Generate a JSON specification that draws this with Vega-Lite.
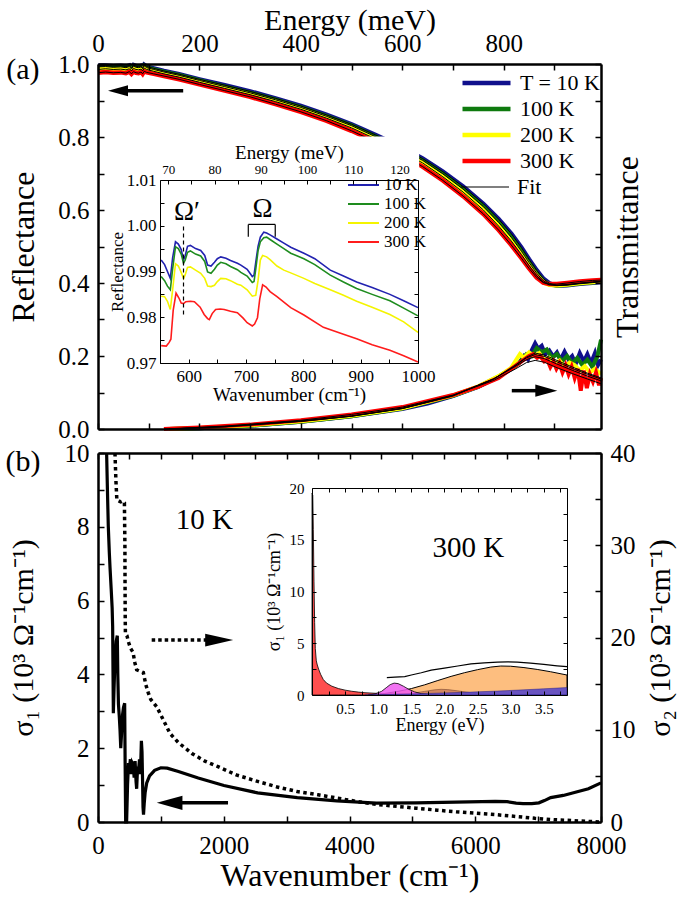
{
"$schema": "https://vega.github.io/schema/vega-lite/v6.json",
"width": 685, "height": 899,
"autosize": {"type": "none"},
"padding": 0,
"background": "white",
"config": {
 "font": "Liberation Serif",
 "view": {"stroke": null},
 "axis": {"grid": false, "labelColor": "black", "titleColor": "black", "tickColor": "black", "domainColor": "black", "titleFontWeight": "normal", "labelFlush": false, "labelOverlap": false},
 "legend": {"labelColor": "black", "labelFont": "Liberation Serif"}
},
"datasets": {
 "one": [{}],
 "R": [
  {"E":0,"T":"10 K","R":0.995},{"E":15,"T":"10 K","R":0.996},{"E":30,"T":"10 K","R":0.994},{"E":45,"T":"10 K","R":0.995},{"E":55,"T":"10 K","R":0.993},{"E":62,"T":"10 K","R":0.996},{"E":66,"T":"10 K","R":0.989},{"E":70,"T":"10 K","R":0.997},{"E":75,"T":"10 K","R":0.994},{"E":80,"T":"10 K","R":0.993},{"E":85,"T":"10 K","R":0.995},{"E":88,"T":"10 K","R":0.99},{"E":91,"T":"10 K","R":0.998},{"E":96,"T":"10 K","R":0.993},{"E":110,"T":"10 K","R":0.988},{"E":130,"T":"10 K","R":0.981},{"E":160,"T":"10 K","R":0.972},{"E":200,"T":"10 K","R":0.958},{"E":250,"T":"10 K","R":0.942},{"E":300,"T":"10 K","R":0.925},{"E":350,"T":"10 K","R":0.906},{"E":400,"T":"10 K","R":0.885},{"E":450,"T":"10 K","R":0.861},{"E":500,"T":"10 K","R":0.835},{"E":550,"T":"10 K","R":0.804},{"E":600,"T":"10 K","R":0.771},{"E":640,"T":"10 K","R":0.741},{"E":680,"T":"10 K","R":0.705},{"E":720,"T":"10 K","R":0.664},{"E":760,"T":"10 K","R":0.617},{"E":790,"T":"10 K","R":0.575},{"E":815,"T":"10 K","R":0.535},{"E":835,"T":"10 K","R":0.497},{"E":850,"T":"10 K","R":0.465},{"E":865,"T":"10 K","R":0.435},{"E":878,"T":"10 K","R":0.412},{"E":890,"T":"10 K","R":0.399},{"E":905,"T":"10 K","R":0.393},{"E":925,"T":"10 K","R":0.394},{"E":950,"T":"10 K","R":0.398},{"E":975,"T":"10 K","R":0.401},{"E":992,"T":"10 K","R":0.403},
  {"E":0,"T":"100 K","R":0.992},{"E":15,"T":"100 K","R":0.993},{"E":30,"T":"100 K","R":0.991},{"E":45,"T":"100 K","R":0.992},{"E":55,"T":"100 K","R":0.99},{"E":62,"T":"100 K","R":0.993},{"E":66,"T":"100 K","R":0.986},{"E":70,"T":"100 K","R":0.994},{"E":75,"T":"100 K","R":0.991},{"E":80,"T":"100 K","R":0.99},{"E":85,"T":"100 K","R":0.992},{"E":88,"T":"100 K","R":0.987},{"E":91,"T":"100 K","R":0.995},{"E":96,"T":"100 K","R":0.99},{"E":110,"T":"100 K","R":0.985},{"E":130,"T":"100 K","R":0.978},{"E":160,"T":"100 K","R":0.969},{"E":200,"T":"100 K","R":0.955},{"E":250,"T":"100 K","R":0.938},{"E":300,"T":"100 K","R":0.921},{"E":350,"T":"100 K","R":0.902},{"E":400,"T":"100 K","R":0.881},{"E":450,"T":"100 K","R":0.857},{"E":500,"T":"100 K","R":0.831},{"E":550,"T":"100 K","R":0.799},{"E":600,"T":"100 K","R":0.766},{"E":640,"T":"100 K","R":0.736},{"E":680,"T":"100 K","R":0.699},{"E":720,"T":"100 K","R":0.657},{"E":760,"T":"100 K","R":0.609},{"E":790,"T":"100 K","R":0.566},{"E":815,"T":"100 K","R":0.525},{"E":835,"T":"100 K","R":0.487},{"E":850,"T":"100 K","R":0.456},{"E":865,"T":"100 K","R":0.427},{"E":878,"T":"100 K","R":0.406},{"E":890,"T":"100 K","R":0.396},{"E":905,"T":"100 K","R":0.393},{"E":925,"T":"100 K","R":0.395},{"E":950,"T":"100 K","R":0.399},{"E":975,"T":"100 K","R":0.402},{"E":992,"T":"100 K","R":0.404},
  {"E":0,"T":"200 K","R":0.985},{"E":15,"T":"200 K","R":0.987},{"E":30,"T":"200 K","R":0.985},{"E":45,"T":"200 K","R":0.986},{"E":55,"T":"200 K","R":0.984},{"E":62,"T":"200 K","R":0.987},{"E":66,"T":"200 K","R":0.981},{"E":70,"T":"200 K","R":0.988},{"E":75,"T":"200 K","R":0.985},{"E":80,"T":"200 K","R":0.984},{"E":85,"T":"200 K","R":0.986},{"E":88,"T":"200 K","R":0.981},{"E":91,"T":"200 K","R":0.989},{"E":96,"T":"200 K","R":0.985},{"E":110,"T":"200 K","R":0.98},{"E":130,"T":"200 K","R":0.973},{"E":160,"T":"200 K","R":0.964},{"E":200,"T":"200 K","R":0.95},{"E":250,"T":"200 K","R":0.933},{"E":300,"T":"200 K","R":0.916},{"E":350,"T":"200 K","R":0.897},{"E":400,"T":"200 K","R":0.876},{"E":450,"T":"200 K","R":0.852},{"E":500,"T":"200 K","R":0.825},{"E":550,"T":"200 K","R":0.793},{"E":600,"T":"200 K","R":0.759},{"E":640,"T":"200 K","R":0.729},{"E":680,"T":"200 K","R":0.691},{"E":720,"T":"200 K","R":0.649},{"E":760,"T":"200 K","R":0.6},{"E":790,"T":"200 K","R":0.556},{"E":815,"T":"200 K","R":0.515},{"E":835,"T":"200 K","R":0.478},{"E":850,"T":"200 K","R":0.448},{"E":865,"T":"200 K","R":0.42},{"E":878,"T":"200 K","R":0.402},{"E":890,"T":"200 K","R":0.395},{"E":905,"T":"200 K","R":0.394},{"E":925,"T":"200 K","R":0.396},{"E":950,"T":"200 K","R":0.4},{"E":975,"T":"200 K","R":0.403},{"E":992,"T":"200 K","R":0.405},
  {"E":0,"T":"300 K","R":0.976},{"E":15,"T":"300 K","R":0.978},{"E":30,"T":"300 K","R":0.976},{"E":45,"T":"300 K","R":0.977},{"E":55,"T":"300 K","R":0.975},{"E":62,"T":"300 K","R":0.979},{"E":66,"T":"300 K","R":0.973},{"E":70,"T":"300 K","R":0.979},{"E":75,"T":"300 K","R":0.976},{"E":80,"T":"300 K","R":0.975},{"E":85,"T":"300 K","R":0.978},{"E":88,"T":"300 K","R":0.973},{"E":91,"T":"300 K","R":0.98},{"E":96,"T":"300 K","R":0.977},{"E":110,"T":"300 K","R":0.973},{"E":130,"T":"300 K","R":0.967},{"E":160,"T":"300 K","R":0.958},{"E":200,"T":"300 K","R":0.944},{"E":250,"T":"300 K","R":0.927},{"E":300,"T":"300 K","R":0.91},{"E":350,"T":"300 K","R":0.89},{"E":400,"T":"300 K","R":0.869},{"E":450,"T":"300 K","R":0.845},{"E":500,"T":"300 K","R":0.817},{"E":550,"T":"300 K","R":0.785},{"E":600,"T":"300 K","R":0.75},{"E":640,"T":"300 K","R":0.719},{"E":680,"T":"300 K","R":0.681},{"E":720,"T":"300 K","R":0.638},{"E":760,"T":"300 K","R":0.589},{"E":790,"T":"300 K","R":0.545},{"E":815,"T":"300 K","R":0.504},{"E":835,"T":"300 K","R":0.468},{"E":850,"T":"300 K","R":0.44},{"E":865,"T":"300 K","R":0.415},{"E":878,"T":"300 K","R":0.401},{"E":890,"T":"300 K","R":0.397},{"E":905,"T":"300 K","R":0.397},{"E":925,"T":"300 K","R":0.4},{"E":950,"T":"300 K","R":0.404},{"E":975,"T":"300 K","R":0.407},{"E":992,"T":"300 K","R":0.408}
 ],
 "Tr": [
  {"E":140,"T":"10 K","v":0},{"E":200,"T":"10 K","v":0.002},{"E":300,"T":"10 K","v":0.009},{"E":400,"T":"10 K","v":0.02},{"E":500,"T":"10 K","v":0.035},{"E":600,"T":"10 K","v":0.055},{"E":650,"T":"10 K","v":0.07},{"E":700,"T":"10 K","v":0.09},{"E":750,"T":"10 K","v":0.115},{"E":790,"T":"10 K","v":0.143},{"E":815,"T":"10 K","v":0.165},{"E":830,"T":"10 K","v":0.18},{"E":840,"T":"10 K","v":0.2},{"E":848,"T":"10 K","v":0.19},{"E":855,"T":"10 K","v":0.215},{"E":862,"T":"10 K","v":0.235},{"E":868,"T":"10 K","v":0.22},{"E":875,"T":"10 K","v":0.228},{"E":882,"T":"10 K","v":0.205},{"E":890,"T":"10 K","v":0.215},{"E":898,"T":"10 K","v":0.198},{"E":905,"T":"10 K","v":0.21},{"E":912,"T":"10 K","v":0.19},{"E":920,"T":"10 K","v":0.212},{"E":928,"T":"10 K","v":0.19},{"E":935,"T":"10 K","v":0.2},{"E":942,"T":"10 K","v":0.178},{"E":950,"T":"10 K","v":0.208},{"E":958,"T":"10 K","v":0.185},{"E":965,"T":"10 K","v":0.205},{"E":972,"T":"10 K","v":0.18},{"E":980,"T":"10 K","v":0.208},{"E":986,"T":"10 K","v":0.175},{"E":992,"T":"10 K","v":0.19},
  {"E":140,"T":"100 K","v":0},{"E":200,"T":"100 K","v":0.002},{"E":300,"T":"100 K","v":0.009},{"E":400,"T":"100 K","v":0.02},{"E":500,"T":"100 K","v":0.035},{"E":600,"T":"100 K","v":0.056},{"E":700,"T":"100 K","v":0.091},{"E":750,"T":"100 K","v":0.116},{"E":790,"T":"100 K","v":0.144},{"E":815,"T":"100 K","v":0.165},{"E":830,"T":"100 K","v":0.18},{"E":845,"T":"100 K","v":0.205},{"E":855,"T":"100 K","v":0.2},{"E":865,"T":"100 K","v":0.222},{"E":875,"T":"100 K","v":0.21},{"E":885,"T":"100 K","v":0.218},{"E":895,"T":"100 K","v":0.195},{"E":905,"T":"100 K","v":0.205},{"E":915,"T":"100 K","v":0.185},{"E":925,"T":"100 K","v":0.2},{"E":935,"T":"100 K","v":0.18},{"E":945,"T":"100 K","v":0.195},{"E":955,"T":"100 K","v":0.175},{"E":965,"T":"100 K","v":0.19},{"E":975,"T":"100 K","v":0.17},{"E":985,"T":"100 K","v":0.2},{"E":992,"T":"100 K","v":0.245},
  {"E":140,"T":"200 K","v":0},{"E":200,"T":"200 K","v":0.0025},{"E":300,"T":"200 K","v":0.01},{"E":400,"T":"200 K","v":0.021},{"E":500,"T":"200 K","v":0.036},{"E":600,"T":"200 K","v":0.057},{"E":700,"T":"200 K","v":0.092},{"E":750,"T":"200 K","v":0.117},{"E":790,"T":"200 K","v":0.145},{"E":815,"T":"200 K","v":0.168},{"E":825,"T":"200 K","v":0.19},{"E":832,"T":"200 K","v":0.205},{"E":840,"T":"200 K","v":0.195},{"E":850,"T":"200 K","v":0.21},{"E":860,"T":"200 K","v":0.2},{"E":870,"T":"200 K","v":0.208},{"E":880,"T":"200 K","v":0.19},{"E":890,"T":"200 K","v":0.195},{"E":900,"T":"200 K","v":0.178},{"E":910,"T":"200 K","v":0.188},{"E":920,"T":"200 K","v":0.17},{"E":930,"T":"200 K","v":0.182},{"E":940,"T":"200 K","v":0.175},{"E":950,"T":"200 K","v":0.16},{"E":960,"T":"200 K","v":0.172},{"E":970,"T":"200 K","v":0.155},{"E":980,"T":"200 K","v":0.165},{"E":992,"T":"200 K","v":0.15},
  {"E":130,"T":"300 K","v":0},{"E":140,"T":"300 K","v":0.001},{"E":200,"T":"300 K","v":0.004},{"E":300,"T":"300 K","v":0.012},{"E":400,"T":"300 K","v":0.024},{"E":500,"T":"300 K","v":0.04},{"E":600,"T":"300 K","v":0.06},{"E":700,"T":"300 K","v":0.093},{"E":750,"T":"300 K","v":0.116},{"E":790,"T":"300 K","v":0.14},{"E":810,"T":"300 K","v":0.16},{"E":825,"T":"300 K","v":0.175},{"E":840,"T":"300 K","v":0.19},{"E":850,"T":"300 K","v":0.2},{"E":858,"T":"300 K","v":0.205},{"E":866,"T":"300 K","v":0.195},{"E":872,"T":"300 K","v":0.2},{"E":880,"T":"300 K","v":0.185},{"E":886,"T":"300 K","v":0.19},{"E":892,"T":"300 K","v":0.17},{"E":898,"T":"300 K","v":0.185},{"E":904,"T":"300 K","v":0.165},{"E":910,"T":"300 K","v":0.18},{"E":916,"T":"300 K","v":0.155},{"E":922,"T":"300 K","v":0.175},{"E":928,"T":"300 K","v":0.15},{"E":934,"T":"300 K","v":0.17},{"E":940,"T":"300 K","v":0.14},{"E":946,"T":"300 K","v":0.165},{"E":952,"T":"300 K","v":0.105},{"E":958,"T":"300 K","v":0.16},{"E":964,"T":"300 K","v":0.112},{"E":970,"T":"300 K","v":0.15},{"E":976,"T":"300 K","v":0.13},{"E":982,"T":"300 K","v":0.155},{"E":988,"T":"300 K","v":0.12},{"E":992,"T":"300 K","v":0.14}
 ],
 "Tfit": [
  {"E":140,"T":"10 K","v":0},{"E":250,"T":"10 K","v":0.006},{"E":400,"T":"10 K","v":0.021},{"E":500,"T":"10 K","v":0.035},{"E":600,"T":"10 K","v":0.056},{"E":700,"T":"10 K","v":0.091},{"E":780,"T":"10 K","v":0.137},{"E":820,"T":"10 K","v":0.172},{"E":845,"T":"10 K","v":0.197},{"E":862,"T":"10 K","v":0.208},{"E":880,"T":"10 K","v":0.203},{"E":905,"T":"10 K","v":0.188},{"E":935,"T":"10 K","v":0.17},{"E":965,"T":"10 K","v":0.153},{"E":992,"T":"10 K","v":0.14},
  {"E":140,"T":"100 K","v":0},{"E":250,"T":"100 K","v":0.006},{"E":400,"T":"100 K","v":0.021},{"E":500,"T":"100 K","v":0.035},{"E":600,"T":"100 K","v":0.056},{"E":700,"T":"100 K","v":0.091},{"E":780,"T":"100 K","v":0.137},{"E":820,"T":"100 K","v":0.171},{"E":845,"T":"100 K","v":0.195},{"E":862,"T":"100 K","v":0.204},{"E":880,"T":"100 K","v":0.199},{"E":905,"T":"100 K","v":0.184},{"E":935,"T":"100 K","v":0.166},{"E":965,"T":"100 K","v":0.15},{"E":992,"T":"100 K","v":0.137},
  {"E":140,"T":"200 K","v":0},{"E":250,"T":"200 K","v":0.007},{"E":400,"T":"200 K","v":0.022},{"E":500,"T":"200 K","v":0.036},{"E":600,"T":"200 K","v":0.057},{"E":700,"T":"200 K","v":0.092},{"E":780,"T":"200 K","v":0.137},{"E":820,"T":"200 K","v":0.169},{"E":845,"T":"200 K","v":0.19},{"E":862,"T":"200 K","v":0.198},{"E":880,"T":"200 K","v":0.193},{"E":905,"T":"200 K","v":0.178},{"E":935,"T":"200 K","v":0.161},{"E":965,"T":"200 K","v":0.145},{"E":992,"T":"200 K","v":0.132},
  {"E":130,"T":"300 K","v":0},{"E":250,"T":"300 K","v":0.008},{"E":400,"T":"300 K","v":0.024},{"E":500,"T":"300 K","v":0.04},{"E":600,"T":"300 K","v":0.06},{"E":700,"T":"300 K","v":0.093},{"E":780,"T":"300 K","v":0.133},{"E":820,"T":"300 K","v":0.162},{"E":845,"T":"300 K","v":0.182},{"E":862,"T":"300 K","v":0.188},{"E":880,"T":"300 K","v":0.183},{"E":905,"T":"300 K","v":0.168},{"E":935,"T":"300 K","v":0.152},{"E":965,"T":"300 K","v":0.137},{"E":992,"T":"300 K","v":0.124}
 ],
 "Ri": [
  {"k":552,"T":"10 K","R":0.9925},{"k":558,"T":"10 K","R":0.9915},{"k":563,"T":"10 K","R":0.990},{"k":568,"T":"10 K","R":0.9885},{"k":572,"T":"10 K","R":0.993},{"k":577,"T":"10 K","R":0.9965},{"k":582,"T":"10 K","R":0.996},{"k":587,"T":"10 K","R":0.9948},{"k":591,"T":"10 K","R":0.9925},{"k":594,"T":"10 K","R":0.9935},{"k":598,"T":"10 K","R":0.9955},{"k":603,"T":"10 K","R":0.9957},{"k":612,"T":"10 K","R":0.995},{"k":621,"T":"10 K","R":0.9946},{"k":628,"T":"10 K","R":0.9935},{"k":633,"T":"10 K","R":0.9914},{"k":639,"T":"10 K","R":0.9912},{"k":645,"T":"10 K","R":0.992},{"k":650,"T":"10 K","R":0.9928},{"k":656,"T":"10 K","R":0.9932},{"k":665,"T":"10 K","R":0.9929},{"k":673,"T":"10 K","R":0.9924},{"k":685,"T":"10 K","R":0.9918},{"k":691,"T":"10 K","R":0.9914},{"k":702,"T":"10 K","R":0.9905},{"k":711,"T":"10 K","R":0.9889},{"k":714,"T":"10 K","R":0.9892},{"k":717,"T":"10 K","R":0.992},{"k":721,"T":"10 K","R":0.9955},{"k":725,"T":"10 K","R":0.9975},{"k":731,"T":"10 K","R":0.9986},{"k":736,"T":"10 K","R":0.9984},{"k":742,"T":"10 K","R":0.998},{"k":754,"T":"10 K","R":0.9971},{"k":766,"T":"10 K","R":0.9962},{"k":778,"T":"10 K","R":0.9953},{"k":801,"T":"10 K","R":0.994},{"k":820,"T":"10 K","R":0.9928},{"k":847,"T":"10 K","R":0.9903},{"k":870,"T":"10 K","R":0.989},{"k":893,"T":"10 K","R":0.9877},{"k":920,"T":"10 K","R":0.9865},{"k":951,"T":"10 K","R":0.985},{"k":975,"T":"10 K","R":0.9836},{"k":1000,"T":"10 K","R":0.9821},
  {"k":552,"T":"100 K","R":0.9889},{"k":558,"T":"100 K","R":0.988},{"k":563,"T":"100 K","R":0.9868},{"k":568,"T":"100 K","R":0.986},{"k":572,"T":"100 K","R":0.9905},{"k":577,"T":"100 K","R":0.9954},{"k":582,"T":"100 K","R":0.995},{"k":587,"T":"100 K","R":0.9938},{"k":591,"T":"100 K","R":0.9918},{"k":594,"T":"100 K","R":0.9925},{"k":598,"T":"100 K","R":0.9942},{"k":603,"T":"100 K","R":0.9945},{"k":612,"T":"100 K","R":0.9938},{"k":621,"T":"100 K","R":0.9934},{"k":628,"T":"100 K","R":0.9922},{"k":633,"T":"100 K","R":0.9899},{"k":639,"T":"100 K","R":0.9896},{"k":645,"T":"100 K","R":0.9905},{"k":650,"T":"100 K","R":0.9914},{"k":656,"T":"100 K","R":0.992},{"k":665,"T":"100 K","R":0.9917},{"k":673,"T":"100 K","R":0.9911},{"k":685,"T":"100 K","R":0.9904},{"k":691,"T":"100 K","R":0.9898},{"k":702,"T":"100 K","R":0.989},{"k":711,"T":"100 K","R":0.9876},{"k":714,"T":"100 K","R":0.9878},{"k":717,"T":"100 K","R":0.9905},{"k":721,"T":"100 K","R":0.9945},{"k":725,"T":"100 K","R":0.9965},{"k":731,"T":"100 K","R":0.9974},{"k":736,"T":"100 K","R":0.9975},{"k":742,"T":"100 K","R":0.997},{"k":754,"T":"100 K","R":0.996},{"k":766,"T":"100 K","R":0.995},{"k":778,"T":"100 K","R":0.994},{"k":801,"T":"100 K","R":0.9928},{"k":820,"T":"100 K","R":0.9915},{"k":847,"T":"100 K","R":0.9892},{"k":870,"T":"100 K","R":0.9877},{"k":893,"T":"100 K","R":0.9863},{"k":920,"T":"100 K","R":0.985},{"k":951,"T":"100 K","R":0.9836},{"k":975,"T":"100 K","R":0.982},{"k":1000,"T":"100 K","R":0.9803},
  {"k":552,"T":"200 K","R":0.9846},{"k":558,"T":"200 K","R":0.9845},{"k":563,"T":"200 K","R":0.9835},{"k":568,"T":"200 K","R":0.9817},{"k":572,"T":"200 K","R":0.986},{"k":577,"T":"200 K","R":0.9917},{"k":582,"T":"200 K","R":0.9912},{"k":587,"T":"200 K","R":0.9898},{"k":591,"T":"200 K","R":0.9885},{"k":594,"T":"200 K","R":0.9893},{"k":598,"T":"200 K","R":0.9909},{"k":603,"T":"200 K","R":0.991},{"k":612,"T":"200 K","R":0.9903},{"k":621,"T":"200 K","R":0.9896},{"k":628,"T":"200 K","R":0.9885},{"k":633,"T":"200 K","R":0.9868},{"k":639,"T":"200 K","R":0.9867},{"k":645,"T":"200 K","R":0.987},{"k":650,"T":"200 K","R":0.9878},{"k":656,"T":"200 K","R":0.9885},{"k":665,"T":"200 K","R":0.9884},{"k":673,"T":"200 K","R":0.988},{"k":685,"T":"200 K","R":0.9872},{"k":691,"T":"200 K","R":0.987},{"k":702,"T":"200 K","R":0.986},{"k":711,"T":"200 K","R":0.9846},{"k":717,"T":"200 K","R":0.9848},{"k":721,"T":"200 K","R":0.988},{"k":725,"T":"200 K","R":0.9925},{"k":729,"T":"200 K","R":0.9935},{"k":736,"T":"200 K","R":0.9932},{"k":742,"T":"200 K","R":0.9926},{"k":754,"T":"200 K","R":0.9912},{"k":766,"T":"200 K","R":0.9903},{"k":778,"T":"200 K","R":0.9897},{"k":801,"T":"200 K","R":0.9885},{"k":820,"T":"200 K","R":0.9874},{"k":847,"T":"200 K","R":0.986},{"k":870,"T":"200 K","R":0.9848},{"k":893,"T":"200 K","R":0.9835},{"k":920,"T":"200 K","R":0.9822},{"k":951,"T":"200 K","R":0.9806},{"k":975,"T":"200 K","R":0.979},{"k":1000,"T":"200 K","R":0.9767},
  {"k":552,"T":"300 K","R":0.9738},{"k":561,"T":"300 K","R":0.9737},{"k":566,"T":"300 K","R":0.9745},{"k":569,"T":"300 K","R":0.9752},{"k":573,"T":"300 K","R":0.9815},{"k":578,"T":"300 K","R":0.9853},{"k":583,"T":"300 K","R":0.9842},{"k":587,"T":"300 K","R":0.9831},{"k":591,"T":"300 K","R":0.983},{"k":595,"T":"300 K","R":0.9834},{"k":603,"T":"300 K","R":0.9835},{"k":610,"T":"300 K","R":0.9834},{"k":620,"T":"300 K","R":0.9822},{"k":627,"T":"300 K","R":0.9806},{"k":633,"T":"300 K","R":0.9797},{"k":636,"T":"300 K","R":0.9795},{"k":641,"T":"300 K","R":0.9808},{"k":647,"T":"300 K","R":0.9817},{"k":655,"T":"300 K","R":0.9818},{"k":662,"T":"300 K","R":0.9817},{"k":673,"T":"300 K","R":0.9813},{"k":685,"T":"300 K","R":0.981},{"k":695,"T":"300 K","R":0.9798},{"k":702,"T":"300 K","R":0.9788},{"k":711,"T":"300 K","R":0.9781},{"k":715,"T":"300 K","R":0.9785},{"k":720,"T":"300 K","R":0.9799},{"k":724,"T":"300 K","R":0.984},{"k":729,"T":"300 K","R":0.9871},{"k":735,"T":"300 K","R":0.9866},{"k":742,"T":"300 K","R":0.9856},{"k":754,"T":"300 K","R":0.9845},{"k":778,"T":"300 K","R":0.9821},{"k":801,"T":"300 K","R":0.9805},{"k":835,"T":"300 K","R":0.9778},{"k":870,"T":"300 K","R":0.9763},{"k":893,"T":"300 K","R":0.9753},{"k":920,"T":"300 K","R":0.974},{"k":951,"T":"300 K","R":0.9728},{"k":975,"T":"300 K","R":0.9716},{"k":1000,"T":"300 K","R":0.9702}
 ],
 "s1": [
  {"k":137,"s":10},{"k":150,"s":9.0},{"k":164,"s":8.0},{"k":180,"s":7.3},{"k":191,"s":6.9},{"k":210,"s":6.3},{"k":225,"s":5.8},{"k":233,"s":5.3},{"k":240,"s":3.8},{"k":244,"s":2.95},{"k":255,"s":3.6},{"k":270,"s":4.4},{"k":290,"s":4.9},{"k":307,"s":5.05},{"k":315,"s":4.0},{"k":325,"s":3.2},{"k":339,"s":2.85},{"k":350,"s":2.5},{"k":362,"s":2.0},{"k":375,"s":2.4},{"k":390,"s":2.9},{"k":405,"s":3.1},{"k":424,"s":3.22},{"k":432,"s":1.5},{"k":440,"s":0.0},{"k":455,"s":0.0},{"k":470,"s":1.0},{"k":485,"s":1.6},{"k":500,"s":1.45},{"k":515,"s":1.7},{"k":530,"s":1.3},{"k":545,"s":1.6},{"k":560,"s":1.55},{"k":575,"s":1.2},{"k":590,"s":1.65},{"k":605,"s":1.1},{"k":615,"s":0.9},{"k":630,"s":1.5},{"k":645,"s":1.4},{"k":660,"s":1.7},{"k":675,"s":1.3},{"k":690,"s":2.2},{"k":700,"s":1.9},{"k":708,"s":1.2},{"k":716,"s":0.4},{"k":724,"s":0.2},{"k":735,"s":0.5},{"k":750,"s":0.8},{"k":775,"s":1.06},{"k":820,"s":1.25},{"k":900,"s":1.4},{"k":1000,"s":1.47},{"k":1100,"s":1.46},{"k":1279,"s":1.37},{"k":1594,"s":1.19},{"k":2003,"s":0.99},{"k":2539,"s":0.79},{"k":3169,"s":0.66},{"k":3798,"s":0.57},{"k":4428,"s":0.51},{"k":5058,"s":0.52},{"k":5688,"s":0.54},{"k":6318,"s":0.56},{"k":6507,"s":0.55},{"k":6650,"s":0.51},{"k":6760,"s":0.5},{"k":6900,"s":0.5},{"k":7012,"s":0.52},{"k":7100,"s":0.58},{"k":7200,"s":0.66},{"k":7400,"s":0.72},{"k":7578,"s":0.8},{"k":7800,"s":0.9},{"k":8000,"s":1.06}
 ],
 "s2": [
  {"k":270,"s":40},{"k":285,"s":37},{"k":300,"s":34.9},{"k":330,"s":34.8},{"k":360,"s":34.7},{"k":390,"s":34.8},{"k":420,"s":34.6},{"k":428,"s":30},{"k":430,"s":26},{"k":433,"s":22},{"k":436,"s":20.4},{"k":460,"s":20.2},{"k":490,"s":19.4},{"k":520,"s":18.8},{"k":557,"s":18.4},{"k":585,"s":17.3},{"k":615,"s":16.5},{"k":650,"s":16.4},{"k":690,"s":16.3},{"k":721,"s":16.2},{"k":760,"s":14.9},{"k":800,"s":14.0},{"k":838,"s":13.3},{"k":933,"s":12.5},{"k":1000,"s":11.6},{"k":1145,"s":9.6},{"k":1279,"s":8.6},{"k":1500,"s":7.4},{"k":1700,"s":6.6},{"k":1909,"s":6.0},{"k":2200,"s":5.1},{"k":2539,"s":4.4},{"k":2850,"s":3.8},{"k":3169,"s":3.3},{"k":3500,"s":2.95},{"k":3798,"s":2.6},{"k":4100,"s":2.25},{"k":4428,"s":1.9},{"k":4750,"s":1.7},{"k":5058,"s":1.5},{"k":5400,"s":1.28},{"k":5688,"s":1.1},{"k":6000,"s":0.95},{"k":6318,"s":0.8},{"k":6650,"s":0.6},{"k":6948,"s":0.4},{"k":7250,"s":0.25},{"k":7578,"s":0.14},{"k":7800,"s":0.06},{"k":8000,"s":0.0}
 ],
 "cD": [{"e":0,"s":19.5},{"e":0.012,"s":19.3},{"e":0.02,"s":16},{"e":0.03,"s":11},{"e":0.04,"s":7},{"e":0.05,"s":4.5},{"e":0.065,"s":3.3},{"e":0.08,"s":2.9},{"e":0.1,"s":2.5},{"e":0.13,"s":2.0},{"e":0.17,"s":1.5},{"e":0.22,"s":1.15},{"e":0.3,"s":0.85},{"e":0.4,"s":0.62},{"e":0.5,"s":0.47},{"e":0.6,"s":0.36},{"e":0.7,"s":0.28},{"e":0.8,"s":0.22},{"e":1.0,"s":0.15},{"e":1.3,"s":0.1},{"e":1.8,"s":0.06},{"e":2.5,"s":0.04},{"e":3.85,"s":0.02}],
 "cO": [{"e":0.9,"s":0},{"e":1.1,"s":0.15},{"e":1.3,"s":0.35},{"e":1.5,"s":0.62},{"e":1.7,"s":0.98},{"e":1.9,"s":1.4},{"e":2.1,"s":1.8},{"e":2.3,"s":2.15},{"e":2.5,"s":2.45},{"e":2.7,"s":2.7},{"e":2.85,"s":2.8},{"e":3.0,"s":2.78},{"e":3.2,"s":2.65},{"e":3.4,"s":2.47},{"e":3.6,"s":2.25},{"e":3.85,"s":1.93}],
 "cB": [{"e":1.3,"s":0},{"e":1.5,"s":0.15},{"e":1.7,"s":0.35},{"e":1.85,"s":0.5},{"e":1.95,"s":0.55},{"e":2.05,"s":0.52},{"e":2.2,"s":0.4},{"e":2.4,"s":0.22},{"e":2.6,"s":0.1},{"e":2.9,"s":0.03},{"e":3.2,"s":0}],
 "cM": [{"e":0.85,"s":0},{"e":0.95,"s":0.1},{"e":1.05,"s":0.35},{"e":1.12,"s":0.7},{"e":1.18,"s":1.0},{"e":1.24,"s":1.15},{"e":1.3,"s":1.1},{"e":1.38,"s":0.85},{"e":1.46,"s":0.55},{"e":1.55,"s":0.3},{"e":1.65,"s":0.13},{"e":1.75,"s":0.05},{"e":1.9,"s":0}],
 "cP": [{"e":0.8,"s":0},{"e":1.2,"s":0.05},{"e":1.6,"s":0.12},{"e":2.0,"s":0.2},{"e":2.4,"s":0.28},{"e":2.8,"s":0.38},{"e":3.2,"s":0.5},{"e":3.5,"s":0.6},{"e":3.85,"s":0.72}],
 "exp": [{"e":1.13,"s":1.67},{"e":1.25,"s":1.72},{"e":1.4,"s":1.78},{"e":1.5,"s":1.93},{"e":1.65,"s":2.15},{"e":1.8,"s":2.4},{"e":2.0,"s":2.6},{"e":2.2,"s":2.8},{"e":2.4,"s":3.0},{"e":2.6,"s":3.1},{"e":2.8,"s":3.18},{"e":2.95,"s":3.2},{"e":3.1,"s":3.18},{"e":3.3,"s":3.08},{"e":3.5,"s":2.95},{"e":3.7,"s":2.82},{"e":3.85,"s":2.74}]
},
"resolve": {
 "scale": {"x": "independent", "y": "independent", "stroke": "independent", "color": "independent"},
 "axis": {"x": "independent", "y": "independent"},
 "legend": {"stroke": "independent", "color": "independent"}
},
"layer": [
 {"data": {"name": "R"}, "mark": {"type": "line", "strokeWidth": 4.5},
  "encoding": {
   "x": {"field": "E", "type": "quantitative", "scale": {"domain": [0, 991.9], "range": [98, 601], "nice": false, "zero": false},
    "axis": {"orient": "bottom", "offset": -470, "values": [0,100,200,300,400,500,600,700,800,900], "labels": false, "title": null, "tickSize": -6, "tickWidth": 1.5, "domainWidth": 2.5, "zindex": 1}},
   "y": {"field": "R", "type": "quantitative", "scale": {"domain": [0, 1], "range": [429, 64], "nice": false, "zero": false},
    "axis": {"orient": "left", "offset": -98, "values": [0,0.1,0.2,0.3,0.4,0.5,0.6,0.7,0.8,0.9,1], "labelExpr": "round(datum.value*10) % 2 == 0 ? format(datum.value,'.1f') : ''", "labelFontSize": 25, "labelPadding": 15, "title": "Reflectance", "titleFontSize": 32, "titlePadding": 17, "tickSize": -6, "tickWidth": 1.5, "domainWidth": 2.5, "zindex": 1}},
   "stroke": {"field": "T", "type": "nominal", "scale": {"domain": ["10 K","100 K","200 K","300 K"], "range": ["#10108c","#0e7a0e","#ffff00","#ff0000"]},
    "legend": {"orient": "none", "legendX": 460, "legendY": 72, "title": null, "symbolType": "stroke", "symbolSize": 2304, "symbolStrokeWidth": 4.5, "clipHeight": 22, "rowPadding": 4, "labelFontSize": 22, "labelOffset": 7, "padding": 0, "labelExpr": "datum.label == '10 K' ? 'T = 10 K' : datum.label"}}
  }},
 {"data": {"name": "R"}, "mark": {"type": "line", "strokeWidth": 1},
  "encoding": {
   "x": {"field": "E", "type": "quantitative", "scale": {"domain": [0, 991.9], "range": [98, 601], "nice": false, "zero": false},
    "axis": {"orient": "top", "offset": -64, "values": [0,100,200,300,400,500,600,700,800,900], "labelExpr": "datum.value % 200 == 0 ? format(datum.value,'d') : ''", "labelFontSize": 25, "labelPadding": 14, "title": "Energy (meV)", "titleFontSize": 30, "titlePadding": -4, "tickSize": -6, "tickWidth": 1.5, "domainWidth": 2.5, "zindex": 1}},
   "y": {"field": "R", "type": "quantitative", "scale": {"domain": [0, 1], "range": [429, 64], "nice": false, "zero": false},
    "axis": {"orient": "right", "offset": -84, "values": [0,0.1,0.2,0.3,0.4,0.5,0.6,0.7,0.8,0.9,1], "labels": false, "title": "Transmittance", "titleFontSize": 32, "titleAngle": 270, "titleBaseline": "top", "titlePadding": 11, "tickSize": -6, "tickWidth": 1.5, "domainWidth": 2.5, "zindex": 1}},
   "detail": {"field": "T", "type": "nominal"},
   "color": {"datum": "Fit", "type": "nominal", "scale": {"domain": ["Fit"], "range": ["black"]},
    "legend": {"orient": "none", "legendX": 460, "legendY": 176, "title": null, "symbolType": "stroke", "symbolSize": 2304, "symbolStrokeWidth": 1.2, "clipHeight": 22, "labelFontSize": 22, "labelOffset": 7, "padding": 0}}
  }},
 {"data": {"name": "Tr"}, "mark": {"type": "line", "strokeWidth": 4},
  "encoding": {
   "x": {"field": "E", "type": "quantitative", "scale": {"domain": [0, 991.9], "range": [98, 601], "nice": false, "zero": false}, "axis": null},
   "y": {"field": "v", "type": "quantitative", "scale": {"domain": [0, 1], "range": [429, 64], "nice": false, "zero": false}, "axis": null},
   "stroke": {"field": "T", "type": "nominal", "scale": {"domain": ["10 K","100 K","200 K","300 K"], "range": ["#10108c","#0e7a0e","#ffff00","#ff0000"]}, "legend": null}
  }},
 {"data": {"name": "Tfit"}, "mark": {"type": "line", "strokeWidth": 1, "color": "black"},
  "encoding": {
   "x": {"field": "E", "type": "quantitative", "scale": {"domain": [0, 991.9], "range": [98, 601], "nice": false, "zero": false}, "axis": null},
   "y": {"field": "v", "type": "quantitative", "scale": {"domain": [0, 1], "range": [429, 64], "nice": false, "zero": false}, "axis": null},
   "detail": {"field": "T", "type": "nominal"}
  }},
 {"data": {"name": "one"}, "mark": {"type": "rule", "strokeWidth": 3.5, "color": "black", "strokeCap": "butt"},
  "encoding": {
   "x": {"datum": 50, "type": "quantitative", "scale": {"domain": [0, 991.9], "range": [98, 601], "nice": false, "zero": false}, "axis": null},
   "x2": {"datum": 168},
   "y": {"datum": 0.927, "type": "quantitative", "scale": {"domain": [0, 1], "range": [429, 64], "nice": false, "zero": false}, "axis": null}
  }},
 {"data": {"name": "one"}, "mark": {"type": "point", "filled": true, "color": "black", "opacity": 1, "size": 400, "shape": "M1,-0.55L-1,0L1,0.55Z", "strokeWidth": 0},
  "encoding": {
   "x": {"datum": 39.5, "type": "quantitative", "scale": {"domain": [0, 991.9], "range": [98, 601], "nice": false, "zero": false}, "axis": null},
   "y": {"datum": 0.927, "type": "quantitative", "scale": {"domain": [0, 1], "range": [429, 64], "nice": false, "zero": false}, "axis": null}
  }},
 {"data": {"name": "one"}, "mark": {"type": "rule", "strokeWidth": 3.5, "color": "black", "strokeCap": "butt"},
  "encoding": {
   "x": {"datum": 816, "type": "quantitative", "scale": {"domain": [0, 991.9], "range": [98, 601], "nice": false, "zero": false}, "axis": null},
   "x2": {"datum": 875},
   "y": {"datum": 0.105, "type": "quantitative", "scale": {"domain": [0, 1], "range": [429, 64], "nice": false, "zero": false}, "axis": null}
  }},
 {"data": {"name": "one"}, "mark": {"type": "point", "filled": true, "color": "black", "opacity": 1, "size": 484, "shape": "M-1,-0.55L1,0L-1,0.55Z", "strokeWidth": 0},
  "encoding": {
   "x": {"datum": 884, "type": "quantitative", "scale": {"domain": [0, 991.9], "range": [98, 601], "nice": false, "zero": false}, "axis": null},
   "y": {"datum": 0.105, "type": "quantitative", "scale": {"domain": [0, 1], "range": [429, 64], "nice": false, "zero": false}, "axis": null}
  }},
 {"data": {"name": "one"}, "mark": {"type": "text", "text": "(a)", "fontSize": 30, "align": "center", "baseline": "middle", "color": "black"},
  "encoding": {
   "x": {"datum": -148, "type": "quantitative", "scale": {"domain": [0, 991.9], "range": [98, 601], "nice": false, "zero": false}, "axis": null},
   "y": {"datum": 0.984, "type": "quantitative", "scale": {"domain": [0, 1], "range": [429, 64], "nice": false, "zero": false}, "axis": null}
  }},
 {"data": {"name": "one"}, "mark": {"type": "rect", "color": "white", "opacity": 1},
  "encoding": {
   "x": {"datum": 520, "type": "quantitative", "scale": {"domain": [550, 1000], "range": [160, 418], "nice": false, "zero": false}, "axis": null},
   "x2": {"datum": 1002},
   "y": {"datum": 0.963, "type": "quantitative", "scale": {"domain": [0.97, 1.01], "range": [363, 180], "nice": false, "zero": false}, "axis": null},
   "y2": {"datum": 1.0195}
  }},
 {"data": {"name": "Ri"}, "mark": {"type": "line", "strokeWidth": 1.6},
  "encoding": {
   "x": {"field": "k", "type": "quantitative", "scale": {"domain": [550, 1000], "range": [160, 418], "nice": false, "zero": false},
    "axis": {"orient": "bottom", "offset": -536, "values": [550,600,650,700,750,800,850,900,950,1000], "labelExpr": "datum.value % 100 == 0 ? format(datum.value,'d') : ''", "labelFontSize": 17, "labelPadding": 9, "title": "Wavenumber (cm⁻¹)", "titleFontSize": 19, "titlePadding": 1, "tickSize": -4, "tickWidth": 1, "domainWidth": 1, "zindex": 1}},
   "y": {"field": "R", "type": "quantitative", "scale": {"domain": [0.97, 1.01], "range": [363, 180], "nice": false, "zero": false},
    "axis": {"orient": "left", "offset": -160, "values": [0.97,0.975,0.98,0.985,0.99,0.995,1.0,1.005,1.01], "labelExpr": "round(datum.value*1000) % 10 == 0 ? format(datum.value,'.2f') : ''", "labelFontSize": 17, "labelPadding": 8, "title": "Reflectance", "titleFontSize": 17, "titlePadding": 0, "tickSize": -4, "tickWidth": 1, "domainWidth": 1, "zindex": 1}},
   "stroke": {"field": "T", "type": "nominal", "scale": {"domain": ["10 K","100 K","200 K","300 K"], "range": ["#2222b0","#1e8c1e","#f4f400","#ff1c1c"]},
    "legend": {"orient": "none", "legendX": 347, "legendY": 177, "title": null, "symbolType": "stroke", "symbolSize": 961, "symbolStrokeWidth": 2, "clipHeight": 16, "rowPadding": 2, "labelFontSize": 17, "labelOffset": 4, "padding": 0}}
  }},
 {"data": {"name": "one"}, "mark": {"type": "rule", "strokeWidth": 1.2, "color": "black", "strokeDash": [4, 3]},
  "encoding": {
   "x": {"datum": 591, "type": "quantitative", "scale": {"domain": [550, 1000], "range": [160, 418], "nice": false, "zero": false},
    "axis": {"orient": "top", "offset": -180, "values": [564.588,604.916,645.243,685.571,725.899,766.226,806.554,846.882,887.209,927.537,967.865], "labelExpr": "round(datum.value/8.06554) % 10 == 0 ? format(datum.value/8.06554,'.0f') : ''", "labelFontSize": 13, "labelPadding": 8, "title": "Energy (meV)", "titleFontSize": 19, "titlePadding": 1, "tickSize": -4, "tickWidth": 1, "domainWidth": 1, "zindex": 1}},
   "y": {"datum": 0.9806, "type": "quantitative", "scale": {"domain": [0.97, 1.01], "range": [363, 180], "nice": false, "zero": false},
    "axis": {"orient": "right", "offset": -267, "values": [0.97,0.975,0.98,0.985,0.99,0.995,1.0,1.005,1.01], "labels": false, "title": null, "tickSize": -4, "tickWidth": 1, "domainWidth": 1, "zindex": 1}},
   "y2": {"datum": 1.0003}
  }},
 {"data": {"name": "one"}, "mark": {"type": "rule", "strokeWidth": 1.2, "color": "black"},
  "encoding": {
   "x": {"datum": 704, "type": "quantitative", "scale": {"domain": [550, 1000], "range": [160, 418], "nice": false, "zero": false}, "axis": null},
   "x2": {"datum": 751},
   "y": {"datum": 1.0003, "type": "quantitative", "scale": {"domain": [0.97, 1.01], "range": [363, 180], "nice": false, "zero": false}, "axis": null}
  }},
 {"data": {"name": "one"}, "mark": {"type": "rule", "strokeWidth": 1.2, "color": "black"},
  "encoding": {
   "x": {"datum": 704, "type": "quantitative", "scale": {"domain": [550, 1000], "range": [160, 418], "nice": false, "zero": false}, "axis": null},
   "y": {"datum": 0.9976, "type": "quantitative", "scale": {"domain": [0.97, 1.01], "range": [363, 180], "nice": false, "zero": false}, "axis": null},
   "y2": {"datum": 1.0003}
  }},
 {"data": {"name": "one"}, "mark": {"type": "rule", "strokeWidth": 1.2, "color": "black"},
  "encoding": {
   "x": {"datum": 751, "type": "quantitative", "scale": {"domain": [550, 1000], "range": [160, 418], "nice": false, "zero": false}, "axis": null},
   "y": {"datum": 0.9976, "type": "quantitative", "scale": {"domain": [0.97, 1.01], "range": [363, 180], "nice": false, "zero": false}, "axis": null},
   "y2": {"datum": 1.0003}
  }},
 {"data": {"name": "one"}, "mark": {"type": "text", "text": "Ω′", "fontSize": 27, "align": "center", "baseline": "middle", "color": "black"},
  "encoding": {
   "x": {"datum": 597, "type": "quantitative", "scale": {"domain": [550, 1000], "range": [160, 418], "nice": false, "zero": false}, "axis": null},
   "y": {"datum": 1.0029, "type": "quantitative", "scale": {"domain": [0.97, 1.01], "range": [363, 180], "nice": false, "zero": false}, "axis": null}
  }},
 {"data": {"name": "one"}, "mark": {"type": "text", "text": "Ω", "fontSize": 27, "align": "center", "baseline": "middle", "color": "black"},
  "encoding": {
   "x": {"datum": 729, "type": "quantitative", "scale": {"domain": [550, 1000], "range": [160, 418], "nice": false, "zero": false}, "axis": null},
   "y": {"datum": 1.0036, "type": "quantitative", "scale": {"domain": [0.97, 1.01], "range": [363, 180], "nice": false, "zero": false}, "axis": null}
  }},
 {"data": {"name": "s2"}, "mark": {"type": "line", "strokeWidth": 3.5, "color": "black", "strokeDash": [3.5, 3.5], "strokeCap": "butt"},
  "encoding": {
   "x": {"field": "k", "type": "quantitative", "scale": {"domain": [0, 8000], "range": [98, 601], "nice": false, "zero": false},
    "axis": {"orient": "top", "offset": -453, "values": [0,500,1000,1500,2000,2500,3000,3500,4000,4500,5000,5500,6000,6500,7000,7500,8000], "labels": false, "title": null, "tickSize": -6, "tickWidth": 1.5, "domainWidth": 2.5, "zindex": 1}},
   "y": {"field": "s", "type": "quantitative", "scale": {"domain": [0, 40], "range": [822, 453], "nice": false, "zero": false},
    "axis": {"orient": "right", "offset": -84, "values": [0,5,10,15,20,25,30,35,40], "labelExpr": "datum.value % 10 == 0 ? format(datum.value,'d') : ''", "labelFontSize": 25, "labelPadding": 15, "title": "σ₂ (10³ Ω⁻¹cm⁻¹)", "titleFontSize": 30, "titleAngle": 270, "titleBaseline": "top", "titlePadding": 10, "tickSize": -6, "tickWidth": 1.5, "domainWidth": 2.5, "zindex": 1}}
  }},
 {"data": {"name": "s1"}, "mark": {"type": "line", "strokeWidth": 3.2, "color": "black"},
  "encoding": {
   "x": {"field": "k", "type": "quantitative", "scale": {"domain": [0, 8000], "range": [98, 601], "nice": false, "zero": false},
    "axis": {"orient": "bottom", "offset": -77, "values": [0,1000,2000,3000,4000,5000,6000,7000,8000], "labelExpr": "datum.value % 2000 == 0 ? format(datum.value,'d') : ''", "labelFontSize": 25, "labelPadding": 17, "title": "Wavenumber (cm⁻¹)", "titleFontSize": 32, "titlePadding": 2, "tickSize": -6, "tickWidth": 1.5, "domainWidth": 2.5, "zindex": 1}},
   "y": {"field": "s", "type": "quantitative", "scale": {"domain": [0, 10], "range": [822, 453], "nice": false, "zero": false},
    "axis": {"orient": "left", "offset": -98, "values": [0,1,2,3,4,5,6,7,8,9,10], "labelExpr": "datum.value % 2 == 0 ? format(datum.value,'d') : ''", "labelFontSize": 25, "labelPadding": 15, "title": "σ₁ (10³ Ω⁻¹cm⁻¹)", "titleFontSize": 30, "titlePadding": 26, "tickSize": -6, "tickWidth": 1.5, "domainWidth": 2.5, "zindex": 1}}
  }},
 {"data": {"name": "one"}, "mark": {"type": "rule", "strokeWidth": 3.5, "color": "black", "strokeDash": [3.5, 3], "strokeCap": "butt"},
  "encoding": {
   "x": {"datum": 854, "type": "quantitative", "scale": {"domain": [0, 8000], "range": [98, 601], "nice": false, "zero": false}, "axis": null},
   "x2": {"datum": 1720},
   "y": {"datum": 4.93, "type": "quantitative", "scale": {"domain": [0, 10], "range": [822, 453], "nice": false, "zero": false}, "axis": null}
  }},
 {"data": {"name": "one"}, "mark": {"type": "point", "filled": true, "color": "black", "opacity": 1, "size": 784, "shape": "M-1,-0.45L1,0L-1,0.45Z", "strokeWidth": 0},
  "encoding": {
   "x": {"datum": 1927, "type": "quantitative", "scale": {"domain": [0, 8000], "range": [98, 601], "nice": false, "zero": false}, "axis": null},
   "y": {"datum": 4.93, "type": "quantitative", "scale": {"domain": [0, 10], "range": [822, 453], "nice": false, "zero": false}, "axis": null}
  }},
 {"data": {"name": "one"}, "mark": {"type": "rule", "strokeWidth": 3.5, "color": "black", "strokeCap": "butt"},
  "encoding": {
   "x": {"datum": 1300, "type": "quantitative", "scale": {"domain": [0, 8000], "range": [98, 601], "nice": false, "zero": false}, "axis": null},
   "x2": {"datum": 2068},
   "y": {"datum": 0.52, "type": "quantitative", "scale": {"domain": [0, 10], "range": [822, 453], "nice": false, "zero": false}, "axis": null}
  }},
 {"data": {"name": "one"}, "mark": {"type": "point", "filled": true, "color": "black", "opacity": 1, "size": 660, "shape": "M1,-0.55L-1,0L1,0.55Z", "strokeWidth": 0},
  "encoding": {
   "x": {"datum": 1139, "type": "quantitative", "scale": {"domain": [0, 8000], "range": [98, 601], "nice": false, "zero": false}, "axis": null},
   "y": {"datum": 0.52, "type": "quantitative", "scale": {"domain": [0, 10], "range": [822, 453], "nice": false, "zero": false}, "axis": null}
  }},
 {"data": {"name": "one"}, "mark": {"type": "text", "text": "10 K", "fontSize": 29, "align": "center", "baseline": "middle", "color": "black"},
  "encoding": {
   "x": {"datum": 1690, "type": "quantitative", "scale": {"domain": [0, 8000], "range": [98, 601], "nice": false, "zero": false}, "axis": null},
   "y": {"datum": 8.18, "type": "quantitative", "scale": {"domain": [0, 10], "range": [822, 453], "nice": false, "zero": false}, "axis": null}
  }},
 {"data": {"name": "one"}, "mark": {"type": "text", "text": "(b)", "fontSize": 30, "align": "center", "baseline": "middle", "color": "black"},
  "encoding": {
   "x": {"datum": -1193, "type": "quantitative", "scale": {"domain": [0, 8000], "range": [98, 601], "nice": false, "zero": false}, "axis": null},
   "y": {"datum": 9.76, "type": "quantitative", "scale": {"domain": [0, 10], "range": [822, 453], "nice": false, "zero": false}, "axis": null}
  }},
 {"data": {"name": "one"}, "mark": {"type": "rect", "color": "white", "opacity": 1},
  "encoding": {
   "x": {"datum": 0, "type": "quantitative", "scale": {"domain": [0, 3.85], "range": [312, 567], "nice": false, "zero": false},
    "axis": {"orient": "top", "offset": -488, "values": [0.25,0.5,0.75,1,1.25,1.5,1.75,2,2.25,2.5,2.75,3,3.25,3.5,3.75], "labels": false, "title": null, "tickSize": -4, "tickWidth": 1, "domainWidth": 1, "zindex": 1}},
   "x2": {"datum": 3.85},
   "y": {"datum": 0, "type": "quantitative", "scale": {"domain": [0, 20], "range": [695, 488], "nice": false, "zero": false},
    "axis": {"orient": "right", "offset": -118, "values": [0,2.5,5,7.5,10,12.5,15,17.5,20], "labels": false, "title": null, "tickSize": -4, "tickWidth": 1, "domainWidth": 1, "zindex": 1}},
   "y2": {"datum": 20}
  }},
 {"data": {"name": "cO"}, "mark": {"type": "area", "color": "#fdba78", "fillOpacity": 0.95, "stroke": "black", "strokeWidth": 1},
  "encoding": {
   "x": {"field": "e", "type": "quantitative", "scale": {"domain": [0, 3.85], "range": [312, 567], "nice": false, "zero": false},
    "axis": {"orient": "bottom", "offset": -204, "values": [0.25,0.5,0.75,1,1.25,1.5,1.75,2,2.25,2.5,2.75,3,3.25,3.5,3.75], "labelExpr": "round(datum.value*100) % 50 == 0 ? format(datum.value,'.1f') : ''", "labelFontSize": 15, "labelPadding": 10, "title": "Energy (eV)", "titleFontSize": 18, "titlePadding": 0, "tickSize": -4, "tickWidth": 1, "domainWidth": 1, "zindex": 1}},
   "y": {"field": "s", "type": "quantitative", "scale": {"domain": [0, 20], "range": [695, 488], "nice": false, "zero": false},
    "axis": {"orient": "left", "offset": -312, "values": [0,2.5,5,7.5,10,12.5,15,17.5,20], "labelExpr": "datum.value % 5 == 0 ? format(datum.value,'d') : ''", "labelFontSize": 15, "labelPadding": 12, "title": "σ₁ (10³ Ω⁻¹cm⁻¹)", "titleFontSize": 18, "titlePadding": 6, "tickSize": -4, "tickWidth": 1, "domainWidth": 1, "zindex": 1}},
   "y2": {"datum": 0}
  }},
 {"data": {"name": "cD"}, "mark": {"type": "area", "color": "#ff3030", "fillOpacity": 0.85, "stroke": "black", "strokeWidth": 0.8},
  "encoding": {
   "x": {"field": "e", "type": "quantitative", "scale": {"domain": [0, 3.85], "range": [312, 567], "nice": false, "zero": false}, "axis": null},
   "y": {"field": "s", "type": "quantitative", "scale": {"domain": [0, 20], "range": [695, 488], "nice": false, "zero": false}, "axis": null},
   "y2": {"datum": 0}
  }},
 {"data": {"name": "cB"}, "mark": {"type": "area", "color": "#c8785a", "fillOpacity": 0.8, "stroke": "#7a4a30", "strokeWidth": 0.6},
  "encoding": {
   "x": {"field": "e", "type": "quantitative", "scale": {"domain": [0, 3.85], "range": [312, 567], "nice": false, "zero": false}, "axis": null},
   "y": {"field": "s", "type": "quantitative", "scale": {"domain": [0, 20], "range": [695, 488], "nice": false, "zero": false}, "axis": null},
   "y2": {"datum": 0}
  }},
 {"data": {"name": "cM"}, "mark": {"type": "area", "color": "#f05af0", "fillOpacity": 0.85, "stroke": "black", "strokeWidth": 0.8},
  "encoding": {
   "x": {"field": "e", "type": "quantitative", "scale": {"domain": [0, 3.85], "range": [312, 567], "nice": false, "zero": false}, "axis": null},
   "y": {"field": "s", "type": "quantitative", "scale": {"domain": [0, 20], "range": [695, 488], "nice": false, "zero": false}, "axis": null},
   "y2": {"datum": 0}
  }},
 {"data": {"name": "cP"}, "mark": {"type": "area", "color": "#5a48c8", "fillOpacity": 0.9, "stroke": "#2a2080", "strokeWidth": 0.5},
  "encoding": {
   "x": {"field": "e", "type": "quantitative", "scale": {"domain": [0, 3.85], "range": [312, 567], "nice": false, "zero": false}, "axis": null},
   "y": {"field": "s", "type": "quantitative", "scale": {"domain": [0, 20], "range": [695, 488], "nice": false, "zero": false}, "axis": null},
   "y2": {"datum": 0}
  }},
 {"data": {"name": "exp"}, "mark": {"type": "line", "strokeWidth": 1.2, "color": "black"},
  "encoding": {
   "x": {"field": "e", "type": "quantitative", "scale": {"domain": [0, 3.85], "range": [312, 567], "nice": false, "zero": false}, "axis": null},
   "y": {"field": "s", "type": "quantitative", "scale": {"domain": [0, 20], "range": [695, 488], "nice": false, "zero": false}, "axis": null}
  }},
 {"data": {"name": "one"}, "mark": {"type": "text", "text": "300 K", "fontSize": 29, "align": "center", "baseline": "middle", "color": "black"},
  "encoding": {
   "x": {"datum": 2.36, "type": "quantitative", "scale": {"domain": [0, 3.85], "range": [312, 567], "nice": false, "zero": false}, "axis": null},
   "y": {"datum": 14.25, "type": "quantitative", "scale": {"domain": [0, 20], "range": [695, 488], "nice": false, "zero": false}, "axis": null}
  }}
]
}
